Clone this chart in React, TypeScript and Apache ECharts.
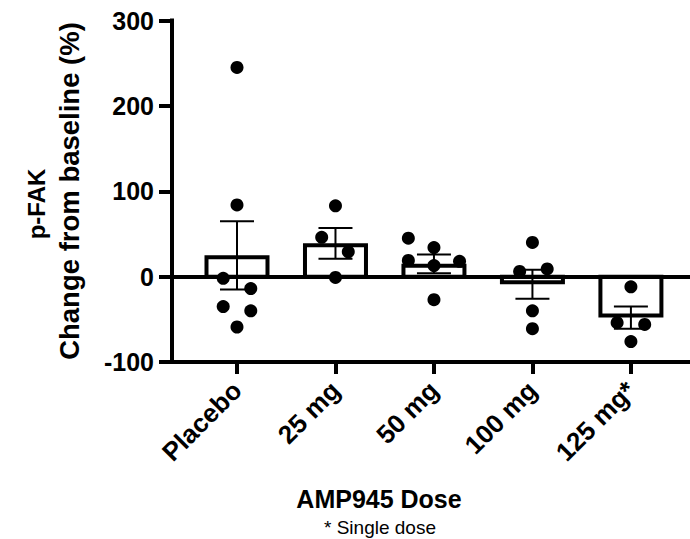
import React, { useEffect, useRef } from "react";
import * as echarts from "echarts";

const categories = ["Placebo", "25 mg", "50 mg", "100 mg", "125 mg*"];
const yTicks = [-100, 0, 100, 200, 300];
const means = [25, 39, 15, -9, -48];
const sems = [40, 18, 11, 17, 13];

const placeboPoints = [245, 84, -2, -14, -35, -40, -59];
const placeboJitter = [0, 0, -0.14, 0.14, -0.14, 0.14, 0];
const mg25Points = [83, 46, 29, -1];
const mg25Jitter = [0, -0.14, 0.13, 0];
const mg50Points = [45, 34, 19, 18, 13, -27];
const mg50Jitter = [-0.26, 0, -0.26, 0.26, 0, 0];
const mg100Points = [40, 9, 6, -40, -61];
const mg100Jitter = [0, 0.15, -0.13, 0, 0];
const mg125Points = [-12, -54, -56, -76];
const mg125Jitter = [0, -0.14, 0.14, 0];

const groups = [
  { pts: placeboPoints, jit: placeboJitter },
  { pts: mg25Points, jit: mg25Jitter },
  { pts: mg50Points, jit: mg50Jitter },
  { pts: mg100Points, jit: mg100Jitter },
  { pts: mg125Points, jit: mg125Jitter },
];

const FONT = "'Liberation Sans', Arial, Helvetica, sans-serif";

export default function App() {
  const ref = useRef<HTMLDivElement>(null);
  useEffect(() => {
    if (!ref.current) return;
    const chart = echarts.init(ref.current, undefined, { renderer: "svg" });
    const scatterData = groups.flatMap((g, i) =>
      g.pts.map((v, k) => [i + g.jit[k], v])
    );
    const barData = means.map((m, i) => [i, m, sems[i]]);
    const halfBar = 0.33;
    const capHalf = 17;
    const option: any = {
      animation: false,
      grid: { left: 172, right: 0, top: 20.5, bottom: 177, containLabel: false },
      xAxis: {
        type: "value",
        min: -0.66,
        max: 4.6,
        splitLine: { show: false },
        axisLine: { show: true, onZero: false, lineStyle: { color: "#000", width: 4, cap: "square" } },
        axisTick: {
          show: true,
          customValues: [0, 1, 2, 3, 4],
          length: 12,
          lineStyle: { color: "#000", width: 4 },
        },
        axisLabel: {
          show: true,
          customValues: [0, 1, 2, 3, 4],
          rotate: 45,
          margin: 24,
          fontSize: 26,
          fontWeight: "bold",
          fontFamily: FONT,
          color: "#000",
          formatter: (v: number) => categories[Math.round(v)] ?? "",
        },
      },
      yAxis: {
        type: "value",
        min: yTicks[0],
        max: yTicks[yTicks.length - 1],
        interval: 100,
        splitLine: { show: false },
        axisLine: { show: true, onZero: false, lineStyle: { color: "#000", width: 4, cap: "square" } },
        axisTick: { show: true, length: 13, lineStyle: { color: "#000", width: 4 } },
        axisLabel: {
          margin: 18,
          fontSize: 25,
          fontWeight: "bold",
          fontFamily: FONT,
          color: "#000",
        },
      },
      graphic: [
        {
          type: "text",
          x: 36,
          y: 204,
          rotation: Math.PI / 2,
          style: {
            text: "p-FAK",
            fontSize: 24,
            fontWeight: "bold",
            fontFamily: FONT,
            fill: "#000",
            align: "center",
            verticalAlign: "middle",
          },
        },
        {
          type: "text",
          x: 69,
          y: 191,
          rotation: Math.PI / 2,
          style: {
            text: "Change from baseline (%)",
            fontSize: 27.5,
            fontWeight: "bold",
            fontFamily: FONT,
            fill: "#000",
            align: "center",
            verticalAlign: "middle",
          },
        },
        {
          type: "text",
          x: 379,
          y: 499,
          style: {
            text: "AMP945 Dose",
            fontSize: 25,
            fontWeight: "bold",
            fontFamily: FONT,
            fill: "#000",
            align: "center",
            verticalAlign: "middle",
          },
        },
        {
          type: "text",
          x: 380,
          y: 527,
          style: {
            text: "* Single dose",
            fontSize: 19,
            fontFamily: FONT,
            fill: "#000",
            align: "center",
            verticalAlign: "middle",
          },
        },
      ],
      series: [
        {
          type: "custom",
          name: "bars",
          z: 2,
          data: barData,
          renderItem: (params: any, api: any) => {
            const i = api.value(0);
            const m = api.value(1);
            const lw = 4;
            const [xl, y0] = api.coord([i - halfBar, 0]);
            const [xr, ym] = api.coord([i + halfBar, m]);
            let y1: number, y2: number;
            if (m >= 0) {
              y1 = ym + lw / 2;
              y2 = y0;
            } else {
              y1 = y0;
              y2 = ym - lw / 2;
            }
            return {
              type: "rect",
              shape: { x: xl + lw / 2, y: y1, width: xr - xl - lw, height: y2 - y1 },
              style: { fill: "#fff", stroke: "#000", lineWidth: lw },
            };
          },
          markLine: {
            silent: true,
            symbol: "none",
            label: { show: false },
            lineStyle: { color: "#000", width: 4, type: "solid" },
            data: [{ yAxis: 0 }],
          },
        },
        {
          type: "custom",
          name: "errors",
          z: 3,
          data: barData,
          renderItem: (params: any, api: any) => {
            const i = api.value(0);
            const m = api.value(1);
            const s = api.value(2);
            const [x, yt] = api.coord([i, m + s]);
            const [, yb] = api.coord([i, m - s]);
            const st = { stroke: "#000", lineWidth: 2 };
            return {
              type: "group",
              children: [
                { type: "line", shape: { x1: x, y1: yt, x2: x, y2: yb }, style: st },
                { type: "line", shape: { x1: x - capHalf, y1: yt, x2: x + capHalf, y2: yt }, style: st },
                { type: "line", shape: { x1: x - capHalf, y1: yb, x2: x + capHalf, y2: yb }, style: st },
              ],
            };
          },
        },
        {
          type: "scatter",
          name: "points",
          z: 4,
          symbol: "circle",
          symbolSize: 13,
          itemStyle: { color: "#000", opacity: 1 },
          data: scatterData,
        },
      ],
    };
    chart.setOption(option);
    return () => chart.dispose();
  }, []);
  return (
    <div
      ref={ref}
      style={{ position: "absolute", left: 0, top: 0, width: 690, height: 539 }}
    />
  );
}
